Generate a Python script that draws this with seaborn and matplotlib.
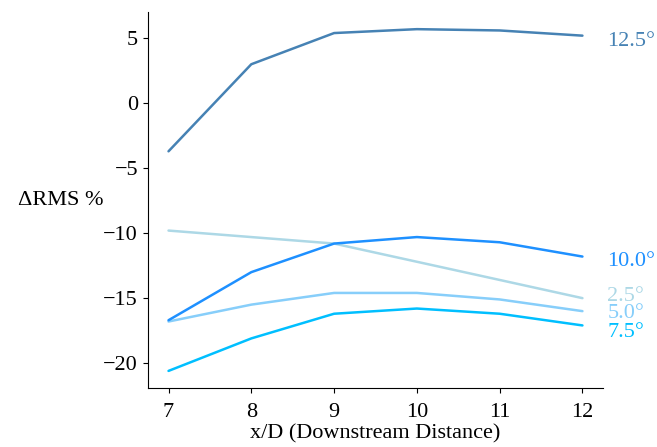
import matplotlib
matplotlib.use("Agg")
import matplotlib.pyplot as plt
import seaborn as sns
import pandas as pd

x_d = [7, 8, 9, 10, 11, 12]
angles = ["2.5°", "5.0°", "7.5°", "10.0°", "12.5°"]
rms_2_5 = [-9.8, -10.3, -10.8, -12.2, -13.6, -15.0]
rms_5_0 = [-16.8, -15.5, -14.6, -14.6, -15.1, -16.0]
rms_7_5 = [-20.6, -18.1, -16.2, -15.8, -16.2, -17.1]
rms_10_0 = [-16.7, -13.0, -10.8, -10.3, -10.7, -11.8]
rms_12_5 = [-3.7, 3.0, 5.4, 5.7, 5.6, 5.2]
colors = ["lightblue", "lightskyblue", "deepskyblue", "dodgerblue", "steelblue"]

series = [rms_2_5, rms_5_0, rms_7_5, rms_10_0, rms_12_5]
df = pd.concat(
    [pd.DataFrame({"x": x_d, "rms": s, "angle": a}) for a, s in zip(angles, series)],
    ignore_index=True,
)

sns.set_style("ticks")
plt.rcParams["font.family"] = ["Liberation Serif", "DejaVu Serif"]
plt.rcParams["text.color"] = "black"
plt.rcParams["axes.labelcolor"] = "black"
plt.rcParams["xtick.color"] = "black"
plt.rcParams["ytick.color"] = "black"
plt.rcParams["axes.edgecolor"] = "black"

fig = plt.figure(figsize=(6.57, 4.47), dpi=100)
ax = fig.add_axes([0.225, 0.132, 0.693, 0.841])
sns.lineplot(data=df, x="x", y="rms", hue="angle", palette=colors,
             hue_order=angles, linewidth=1.8, legend=False, ax=ax)

# small nudges so the end labels sit like the original
nudge = [0.15, -0.15, -0.55, -0.4, -0.45]
for a, s, c, n in zip(angles, series, colors, nudge):
    ax.text(12.3, s[-1] + n, a, color=c, fontsize=16, va="center", ha="left")

ax.set_xlabel("x/D (Downstream Distance)", fontsize=16, labelpad=2)
ax.set_ylabel("ΔRMS %", fontsize=16, rotation=0, labelpad=31, va="center")
ax.tick_params(labelsize=16)
ax.tick_params(axis="x", pad=7)
ax.set_xticks(x_d)
sns.despine(ax=ax)

fig.savefig("out.png", dpi=100)
